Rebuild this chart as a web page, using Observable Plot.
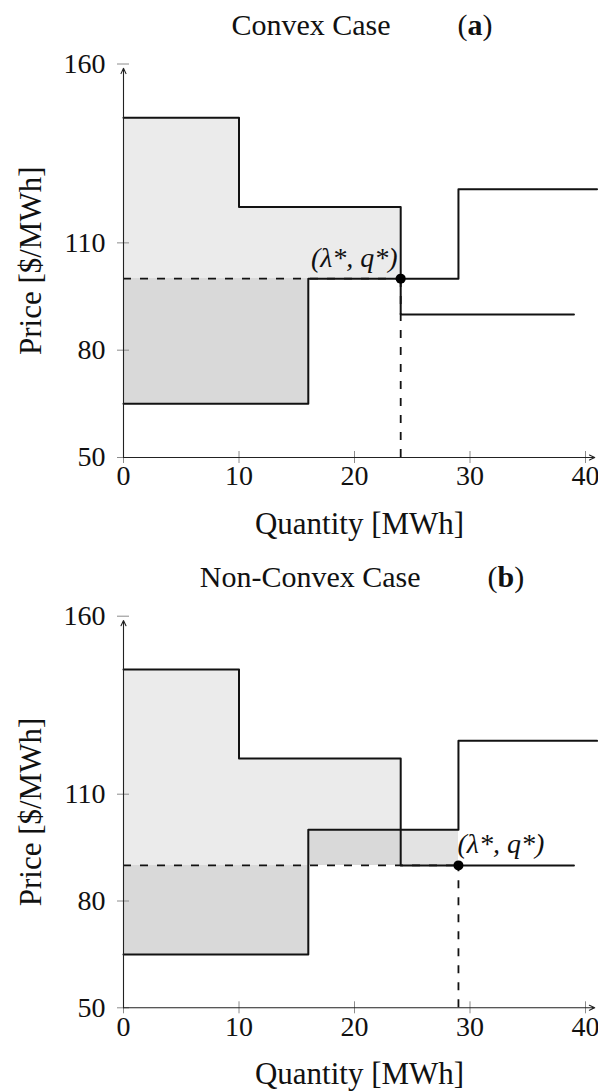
<!DOCTYPE html>
<html><head><meta charset="utf-8">
<script src="https://cdn.jsdelivr.net/npm/d3@7"></script>
<script src="https://cdn.jsdelivr.net/npm/@observablehq/plot@0.6"></script>
<style>
html,body{margin:0;padding:0;background:#fff;}
#wrap{position:relative;width:598px;height:1091px;overflow:hidden;font-family:"Liberation Serif",serif;}
.title{position:absolute;white-space:nowrap;font-size:30px;line-height:30px;color:#111;transform:translateX(-50%);}
.title .tag{margin-left:67px;}
.panel{position:absolute;left:0;}
</style></head><body>
<div id="wrap"></div>
<script>
// ---- data ----
const demandQ = [0, 10, 24, 39];
const demandP = [145, 120, 90, 90];
const supplyQ = [0, 16, 29, 41];
const supplyP = [65, 100, 125, 125];
const xTicks = [0, 10, 20, 30, 40];
const yTicks = [50, 80, 110, 160];
const caseNames = ["Convex Case", "Non-Convex Case"];
const caseTags = ["a", "b"];
const clearingQ = [24, 29];
const clearingP = [100, 90];
const pointLabel = "(λ*, q*)";
const xLabel = "Quantity [MWh]";
const yLabel = "Price [$/MWh]";
const xDomain = [0, 40];
const yDomain = [50, 160];
const xAxisEnd = 40.8;
const yAxisEnd = 158.8;

const demand = demandQ.map((q, i) => ({q, p: demandP[i]}));
const supply = supplyQ.map((q, i) => ({q, p: supplyP[i]}));
const segs = (Q, P) => Q.slice(0, -1).map((q, i) => ({x1: q, x2: Q[i + 1], p: P[i]}));
const demandSeg = segs(demandQ, demandP);
const supplySeg = segs(supplyQ, supplyP);

function surplusRects(price, qs) {
  const rects = [];
  demandSeg.forEach(s => {
    const x2 = Math.min(s.x2, qs);
    if (s.x1 < x2 && s.p > price) rects.push({x1: s.x1, x2, y1: price, y2: s.p, kind: "consumer"});
  });
  supplySeg.forEach(s => {
    const x2 = Math.min(s.x2, qs);
    if (s.x1 >= x2) return;
    if (s.p < price) rects.push({x1: s.x1, x2, y1: s.p, y2: price, kind: "producer"});
    else if (s.p > price) {
      demandSeg.forEach(d => {
        const a = Math.max(s.x1, d.x1), b = Math.min(x2, d.x2);
        if (a < b) rects.push({x1: a, x2: b, y1: price, y2: s.p, kind: d.p > price ? "overlap" : "loss"});
      });
    }
  });
  return rects;
}

const layouts = [
  {top: 0, height: 545, mt: 63.5, mb: 88, titleTop: 10, anchor: "end", ldx: -3},
  {top: 545, height: 546, mt: 70.7, mb: 83.7, titleTop: 562, anchor: "start", ldx: -1}
];

const wrap = document.getElementById("wrap");

layouts.forEach((lay, k) => {
  const price = clearingP[k], qs = clearingQ[k];
  const rects = surplusRects(price, qs);
  const star = [{q: qs, p: price}];
  const ink = "#121212";
  const chart = Plot.plot({
    width: 598, height: lay.height,
    marginTop: lay.mt, marginBottom: lay.mb, marginLeft: 123, marginRight: 13,
    x: {domain: xDomain},
    y: {domain: yDomain},
    color: {domain: ["consumer", "producer", "overlap", "loss"], range: ["#ebebeb", "#d9d9d9", "#d9d9d9", "#e3e3e3"]},
    style: {fontFamily: '"Liberation Serif", serif', fontSize: "28px", color: "#111", background: "transparent", overflow: "visible"},
    marks: [
      Plot.rect(rects, {x1: "x1", x2: "x2", y1: "y1", y2: "y2", fill: "kind", shapeRendering: "crispEdges"}),
      Plot.ruleY(star, {y: "p", x1: 0, x2: "q", stroke: ink, strokeWidth: 1.8, strokeDasharray: "8,9"}),
      Plot.ruleX(star, {x: "q", y1: yDomain[0], y2: "p", stroke: ink, strokeWidth: 1.8, strokeDasharray: "8,9"}),
      Plot.line(demand, {x: "q", y: "p", curve: "step-after", stroke: ink, strokeWidth: 2}),
      Plot.line(supply, {x: "q", y: "p", curve: "step-after", stroke: ink, strokeWidth: 2}),
      Plot.ruleX(xTicks, {x: d => d, y1: yDomain[0], y2: yDomain[0], insetTop: -6, insetBottom: -6, stroke: "#8c8c8c", strokeWidth: 1}),
      Plot.ruleY(yTicks, {y: d => d, x1: xDomain[0], x2: xDomain[0], insetLeft: -6, insetRight: -6, stroke: "#8c8c8c", strokeWidth: 1}),
      Plot.arrow([0], {x1: xDomain[0], y1: yDomain[0], x2: xDomain[0], y2: yAxisEnd, stroke: "#222", strokeWidth: 1.1, headLength: 8, headAngle: 50}),
      Plot.arrow([0], {x1: xDomain[0], y1: yDomain[0], x2: xAxisEnd, y2: yDomain[0], stroke: "#222", strokeWidth: 1.1, headLength: 8, headAngle: 50}),
      Plot.axisX({ticks: xTicks, tickSize: 0, tickPadding: 8, label: null, tickFormat: d => String(d)}),
      Plot.axisY({ticks: yTicks, tickSize: 0, tickPadding: 18, label: null, tickFormat: d => String(d)}),
      Plot.dot(star, {x: "q", y: "p", r: 5, fill: "#000"}),
      Plot.text(star, {x: "q", y: "p", text: () => pointLabel, textAnchor: lay.anchor, dx: lay.ldx, dy: -12, lineAnchor: "bottom", fontStyle: "italic", fontSize: 28, fill: "#111"}),
      Plot.text([xLabel], {text: d => d, frameAnchor: "bottom", textAnchor: "middle", dx: 5, dy: 76, lineAnchor: "bottom", fontSize: 31, fill: "#111"}),
      Plot.text([yLabel], {text: d => d, frameAnchor: "left", textAnchor: "middle", rotate: -90, dx: -92, fontSize: 31, fill: "#111"})
    ]
  });
  chart.classList.add("panel");
  chart.style.top = lay.top + "px";
  wrap.appendChild(chart);

  const t = document.createElement("div");
  t.className = "title";
  t.style.left = "362px";
  t.style.top = lay.titleTop + "px";
  t.innerHTML = `${caseNames[k]}<span class="tag">(<b>${caseTags[k]}</b>)</span>`;
  wrap.appendChild(t);
});
</script>
</body></html>
